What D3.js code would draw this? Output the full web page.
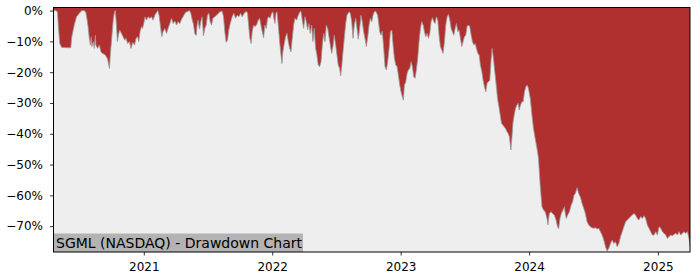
<!DOCTYPE html>
<html>
<head>
<meta charset="utf-8">
<script src="https://cdn.jsdelivr.net/npm/d3@7"></script>
<style>
	body { margin: 0; background: #ffffff; }
	text { font-family: "DejaVu Sans", sans-serif; fill: #000000; }
</style>
</head>
<body>
<script>
// drawdown of SGML, dates as decimal years
const years = [
	2020.299, 2020.316, 2020.330, 2020.338, 2020.348, 2020.363, 2020.433, 2020.441, 2020.460, 2020.478,
	2020.499, 2020.519, 2020.538, 2020.550, 2020.558, 2020.566, 2020.577, 2020.585, 2020.592, 2020.597,
	2020.608, 2020.616, 2020.624, 2020.628, 2020.641, 2020.655, 2020.667, 2020.680, 2020.701, 2020.719,
	2020.733, 2020.740, 2020.753, 2020.764, 2020.774, 2020.779, 2020.787, 2020.795, 2020.803, 2020.813,
	2020.826, 2020.839, 2020.852, 2020.862, 2020.875, 2020.889, 2020.901, 2020.914, 2020.928, 2020.940,
	2020.953, 2020.961, 2020.971, 2020.982, 2020.990, 2021.000, 2021.010, 2021.021, 2021.034, 2021.047,
	2021.060, 2021.072, 2021.086, 2021.099, 2021.109, 2021.119, 2021.130, 2021.140, 2021.150, 2021.164,
	2021.177, 2021.189, 2021.203, 2021.216, 2021.228, 2021.242, 2021.255, 2021.267, 2021.281, 2021.294,
	2021.306, 2021.320, 2021.335, 2021.356, 2021.366, 2021.376, 2021.387, 2021.398, 2021.408, 2021.415,
	2021.423, 2021.434, 2021.444, 2021.454, 2021.465, 2021.475, 2021.486, 2021.496, 2021.507, 2021.517,
	2021.528, 2021.538, 2021.553, 2021.574, 2021.592, 2021.610, 2021.621, 2021.631, 2021.641, 2021.652,
	2021.662, 2021.673, 2021.688, 2021.701, 2021.715, 2021.727, 2021.740, 2021.754, 2021.766, 2021.782,
	2021.797, 2021.808, 2021.816, 2021.826, 2021.836, 2021.844, 2021.855, 2021.865, 2021.878, 2021.891,
	2021.902, 2021.912, 2021.922, 2021.933, 2021.943, 2021.953, 2021.964, 2021.974, 2021.984, 2021.995,
	2022.005, 2022.013, 2022.021, 2022.029, 2022.037, 2022.047, 2022.058, 2022.068, 2022.076, 2022.083,
	2022.094, 2022.104, 2022.115, 2022.125, 2022.136, 2022.146, 2022.156, 2022.167, 2022.177, 2022.190,
	2022.203, 2022.216, 2022.224, 2022.234, 2022.245, 2022.255, 2022.265, 2022.276, 2022.286, 2022.296,
	2022.307, 2022.317, 2022.327, 2022.338, 2022.348, 2022.358, 2022.369, 2022.380, 2022.390, 2022.401,
	2022.411, 2022.421, 2022.432, 2022.442, 2022.452, 2022.463, 2022.473, 2022.483, 2022.494, 2022.504,
	2022.514, 2022.525, 2022.533, 2022.541, 2022.551, 2022.561, 2022.572, 2022.582, 2022.598, 2022.608,
	2022.619, 2022.629, 2022.639, 2022.650, 2022.660, 2022.670, 2022.681, 2022.691, 2022.701, 2022.712,
	2022.722, 2022.733, 2022.744, 2022.754, 2022.764, 2022.775, 2022.785, 2022.795, 2022.806, 2022.821,
	2022.837, 2022.847, 2022.857, 2022.868, 2022.878, 2022.889, 2022.899, 2022.910, 2022.920, 2022.931,
	2022.941, 2022.951, 2022.962, 2022.972, 2022.982, 2022.993, 2023.003, 2023.013, 2023.021, 2023.029,
	2023.040, 2023.050, 2023.060, 2023.071, 2023.081, 2023.091, 2023.102, 2023.112, 2023.122, 2023.133,
	2023.143, 2023.154, 2023.164, 2023.175, 2023.185, 2023.196, 2023.206, 2023.216, 2023.227, 2023.237,
	2023.247, 2023.258, 2023.268, 2023.278, 2023.289, 2023.299, 2023.309, 2023.320, 2023.330, 2023.341,
	2023.351, 2023.362, 2023.372, 2023.383, 2023.393, 2023.403, 2023.414, 2023.424, 2023.434, 2023.445,
	2023.455, 2023.465, 2023.476, 2023.486, 2023.496, 2023.507, 2023.517, 2023.528, 2023.538, 2023.549,
	2023.559, 2023.570, 2023.580, 2023.590, 2023.601, 2023.611, 2023.621, 2023.632, 2023.642, 2023.652,
	2023.663, 2023.673, 2023.683, 2023.694, 2023.705, 2023.712, 2023.722, 2023.733, 2023.744, 2023.754,
	2023.765, 2023.775, 2023.785, 2023.796, 2023.806, 2023.816, 2023.827, 2023.837, 2023.847, 2023.858,
	2023.866, 2023.874, 2023.884, 2023.894, 2023.905, 2023.915, 2023.923, 2023.933, 2023.944, 2023.954,
	2023.964, 2023.975, 2023.985, 2023.995, 2024.009, 2024.022, 2024.034, 2024.047, 2024.061, 2024.073,
	2024.086, 2024.100, 2024.112, 2024.125, 2024.139, 2024.146, 2024.157, 2024.170, 2024.182, 2024.196,
	2024.209, 2024.221, 2024.229, 2024.240, 2024.250, 2024.263, 2024.274, 2024.281, 2024.289, 2024.299,
	2024.313, 2024.326, 2024.338, 2024.349, 2024.359, 2024.373, 2024.385, 2024.398, 2024.411, 2024.424,
	2024.437, 2024.450, 2024.463, 2024.476, 2024.489, 2024.502, 2024.515, 2024.528, 2024.541, 2024.554,
	2024.567, 2024.580, 2024.593, 2024.606, 2024.619, 2024.632, 2024.645, 2024.658, 2024.671, 2024.684,
	2024.697, 2024.710, 2024.723, 2024.736, 2024.749, 2024.762, 2024.775, 2024.788, 2024.801, 2024.814,
	2024.827, 2024.840, 2024.853, 2024.866, 2024.879, 2024.892, 2024.905, 2024.918, 2024.931, 2024.944,
	2024.957, 2024.970, 2024.983, 2024.996, 2025.009, 2025.022, 2025.035, 2025.047, 2025.061, 2025.074,
	2025.086, 2025.100, 2025.113, 2025.125, 2025.139, 2025.152, 2025.164, 2025.178, 2025.191, 2025.203,
	2025.217, 2025.230, 2025.242, 2025.250
];

const drawdown = [
	0, 0, -0.4, -5.8, -10.7, -12.0, -12.1, -8.5, -4.7, -2.0,
	-0.9, 0, 0, -0.6, -2.5, -4.7, -9.0, -11.2, -8.5, -11.7,
	-10.1, -12.3, -8.0, -11.2, -12.3, -11.2, -13.4, -13.9, -14.4, -15.7,
	-18.8, -14.4, -8.0, -2.5, -0.2, 0, -4.2, -10.1, -8.0, -6.3,
	-7.4, -8.5, -9.6, -9.0, -10.7, -10.1, -12.3, -10.3, -11.2, -9.0,
	-8.5, -10.1, -6.9, -5.2, -5.8, -4.2, -2.0, -3.1, -2.0, -2.5,
	-2.0, -3.1, -1.5, -0.6, 0, -1.5, -5.2, -8.5, -6.9, -5.8,
	-7.4, -5.8, -4.2, -2.5, -4.2, -3.4, -4.7, -3.6, -4.2, -2.8,
	-2.0, -0.9, -0.4, 0, -0.9, -2.8, -4.5, -7.7, -8.0, -4.7,
	-3.1, -6.0, -3.6, -2.0, -8.2, -5.8, -4.7, -1.5, -0.9, -3.6,
	-4.7, -2.5, -2.0, -1.2, -0.4, -0.2, -2.0, -6.9, -10.3, -9.6,
	-6.3, -4.2, -2.0, -0.9, -2.5, -1.5, -2.0, -0.9, -2.0, -0.9,
	-0.2, -0.9, -4.7, -9.0, -10.7, -6.9, -4.7, -5.2, -4.7, -3.1,
	-2.5, -4.7, -6.9, -8.8, -4.7, -5.8, -2.5, -2.0, -2.5, -0.9,
	-0.4, -2.5, -4.2, -0.9, -0.4, -4.7, -10.1, -14.4, -17.2, -13.4,
	-10.7, -8.5, -7.4, -10.1, -12.3, -13.4, -9.0, -4.7, -2.5, -3.1,
	-1.5, -0.4, -0.2, -3.1, -5.8, -2.0, -3.6, -6.3, -4.2, -7.4,
	-4.7, -10.1, -5.8, -12.3, -14.4, -17.7, -18.2, -16.6, -11.2, -7.4,
	-10.1, -4.7, -5.8, -8.5, -11.2, -13.9, -11.7, -8.0, -11.2, -14.4,
	-17.7, -18.8, -21.2, -18.2, -13.4, -9.0, -4.2, -1.5, -0.4, -0.9,
	-3.6, -9.0, -4.7, -2.5, -5.8, -9.3, -5.8, -1.5, -3.6, -6.9,
	-9.0, -11.7, -8.5, -4.7, -2.5, -3.6, -1.5, -0.4, -0.2, -1.5,
	-6.9, -8.0, -6.7, -12.3, -18.2, -19.3, -16.6, -12.3, -6.9, -6.3,
	-11.2, -15.5, -17.7, -18.2, -20.9, -24.2, -26.4, -28.0, -29.1, -24.2,
	-23.1, -20.4, -19.3, -18.8, -16.6, -18.2, -21.5, -22.0, -19.3, -15.5,
	-10.1, -5.8, -3.6, -4.7, -6.9, -8.5, -7.4, -9.0, -7.4, -3.6,
	-2.3, -3.6, -4.2, -2.0, -3.1, -8.0, -11.7, -12.8, -13.9, -10.1,
	-4.7, -2.0, -1.2, -3.1, -5.8, -6.9, -8.0, -5.8, -4.2, -6.9,
	-6.3, -9.0, -11.7, -10.1, -8.5, -8.0, -5.2, -4.7, -5.2, -8.0,
	-10.1, -11.2, -10.7, -12.3, -13.9, -14.4, -17.7, -19.9, -22.6, -24.7,
	-26.4, -23.6, -23.1, -22.6, -15.5, -12.3, -15.5, -19.9, -24.2, -28.5,
	-31.2, -33.9, -36.6, -37.2, -37.7, -38.3, -39.3, -39.9, -41.0, -45.3,
	-41.5, -36.6, -33.9, -31.8, -30.7, -30.1, -32.3, -30.7, -29.6, -29.6,
	-26.4, -24.7, -24.2, -25.3, -28.5, -33.9, -38.3, -41.5, -44.7, -48.0,
	-56.7, -63.7, -64.8, -65.3, -67.5, -69.6, -65.9, -65.3, -65.9, -66.4,
	-68.0, -70.2, -70.9, -67.5, -65.9, -64.8, -63.7, -65.9, -67.5, -66.4,
	-65.3, -63.2, -62.1, -59.9, -59.4, -57.5, -59.4, -60.5, -62.6, -64.2,
	-65.9, -68.6, -69.6, -70.2, -70.5, -70.7, -70.5, -70.9, -70.7, -71.8,
	-72.9, -74.5, -76.7, -78.1, -77.2, -75.6, -74.5, -75.6, -75.1, -76.7,
	-75.6, -73.4, -71.8, -70.2, -68.6, -68.0, -67.5, -66.9, -66.4, -65.9,
	-66.4, -67.5, -68.0, -66.9, -67.5, -66.6, -67.5, -69.6, -70.7, -71.8,
	-72.9, -72.9, -71.8, -72.9, -70.2, -70.7, -71.8, -72.3, -72.9, -74.0,
	-73.4, -72.9, -73.1, -72.7, -72.3, -72.9, -71.8, -72.9, -72.3, -71.8,
	-72.3, -71.8, -74.0, -76.7
];

const yTicks = [0, -10, -20, -30, -40, -50, -60, -70];
const yLimits = [-78.4, 1];
const title = "SGML (NASDAQ) - Drawdown Chart";

const WIDTH = 700;
const HEIGHT = 280;
const plotLeft = 53.5;
const plotRight = 690;
const plotTop = 7.5;
const plotBottom = 252;

// decimal year -> Date
function toDate(yr) {
	const y = Math.floor(yr);
	const start = Date.UTC(y, 0, 1);
	const end = Date.UTC(y + 1, 0, 1);
	return new Date(start + (yr - y) * (end - start));
}

const data = years.map((yr, i) => ({ date: toDate(yr), value: drawdown[i] }));

const svg = d3
	.select("body")
	.append("svg")
	.attr("width", WIDTH)
	.attr("height", HEIGHT);

const x = d3
	.scaleUtc()
	.domain(d3.extent(data, (d) => d.date))
	.range([plotLeft, plotRight]);

const y = d3.scaleLinear().domain(yLimits).range([plotBottom, plotTop]);

svg
	.append("rect")
	.attr("x", plotLeft)
	.attr("y", plotTop)
	.attr("width", plotRight - plotLeft)
	.attr("height", plotBottom - plotTop)
	.attr("fill", "#eeeeee");

svg
	.append("defs")
	.append("clipPath")
	.attr("id", "plot")
	.append("rect")
	.attr("x", plotLeft)
	.attr("y", plotTop)
	.attr("width", plotRight - plotLeft)
	.attr("height", plotBottom - plotTop);

const area = d3
	.area()
	.x((d) => x(d.date))
	.y0(plotTop)
	.y1((d) => y(d.value));

const line = d3
	.line()
	.x((d) => x(d.date))
	.y((d) => y(d.value));

const g = svg.append("g").attr("clip-path", "url(#plot)");

g.append("path").datum(data).attr("d", area).attr("fill", "#b03030");

g.append("path")
	.datum(data)
	.attr("d", line)
	.attr("fill", "none")
	.attr("stroke", "#999999")
	.attr("stroke-width", 0.8);

// title box in the lower left corner
svg
	.append("rect")
	.attr("x", plotLeft)
	.attr("y", 233.5)
	.attr("width", 249.5)
	.attr("height", plotBottom - 233.5)
	.attr("fill", "#b3b3b3");

svg
	.append("text")
	.attr("x", 56)
	.attr("y", 247.5)
	.style("font-size", "14px")
	.text(title);

const yAxis = svg
	.append("g")
	.attr("transform", `translate(${plotLeft},0)`)
	.call(
		d3
			.axisLeft(y)
			.tickValues(yTicks)
			.tickSize(3.5)
			.tickPadding(7)
			.tickFormat((d) => (d < 0 ? "\u2212" : "") + Math.abs(d) + "%")
	);

const xAxis = svg
	.append("g")
	.attr("transform", `translate(0,${plotBottom})`)
	.call(
		d3
			.axisBottom(x)
			.ticks(d3.utcYear.every(1))
			.tickSize(3.5)
			.tickPadding(7)
			.tickFormat(d3.utcFormat("%Y"))
	);

[xAxis, yAxis].forEach((ax) => {
	ax.select(".domain").remove();
	ax.selectAll("line").attr("stroke", "#000000").attr("stroke-width", 0.8);
	ax.selectAll("text")
		.style("font-family", "DejaVu Sans")
		.style("font-size", "12px")
		.attr("fill", "#000000");
});

svg
	.append("rect")
	.attr("x", plotLeft)
	.attr("y", plotTop)
	.attr("width", plotRight - plotLeft)
	.attr("height", plotBottom - plotTop)
	.attr("fill", "none")
	.attr("stroke", "#000000")
	.attr("stroke-width", 1);
</script>
</body>
</html>
